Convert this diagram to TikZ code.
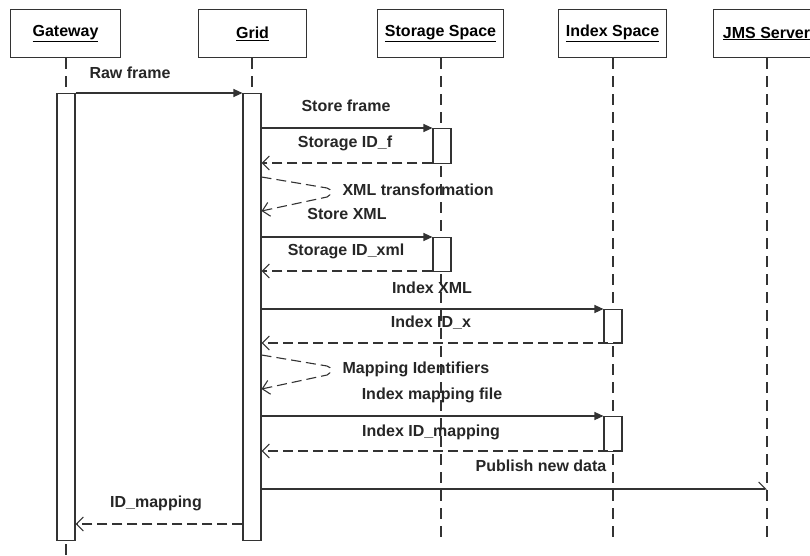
\documentclass[tikz,border=0pt]{standalone}
\usepackage{fontspec}
\setmainfont{Liberation Sans}
\usetikzlibrary{arrows.meta}
\begin{document}
\begin{tikzpicture}[x=1pt,y=-1pt,
  font=\fontsize{16}{18}\selectfont\bfseries,
  line width=1.1pt, draw=black!80,
  head/.style={draw=black!80, minimum height=48pt, inner sep=0pt, anchor=north west},
  bar/.style={draw=black!80, fill=white, minimum width=18pt, inner sep=0pt, anchor=north},
  life/.style={draw=black!80, dash pattern=on 11pt off 7pt},
  call/.style={draw=black!80, -{Triangle[length=9pt,width=8pt]}},
  ret/.style={draw=black!80, dash pattern=on 10pt off 5pt, -{Straight Barb[length=7pt,width=14pt]}},
  pub/.style={draw=black!80, -{Straight Barb[left,length=7pt,width=14pt]}},
  lbl/.style={inner sep=0pt, text=black!85}
]
\useasboundingbox (0,0) rectangle (810,555);
% headers
\node[head, minimum width=110pt] (gw) at (10,9) {\underline{Gateway}};
\node[head, minimum width=108pt] (gr) at (198,9) {\underline{Grid}};
\node[head, minimum width=126pt] (st) at (377,9) {\underline{Storage Space}};
\node[head, minimum width=108pt] (ix) at (558,9) {\underline{Index Space}};
\node[head, minimum width=106pt] (jm) at (713,9) {\underline{JMS Server}};
% lifeline coordinates
\coordinate (gwL) at (66,0);
\coordinate (grL) at (252,0);
\coordinate (stL) at (441,0);
\coordinate (ixL) at (613,0);
\coordinate (jmL) at (767,0);
\coordinate (gwEnd) at (66,555);
\coordinate (stEnd) at (441,541);
\coordinate (ixEnd) at (613,541);
\coordinate (jmEnd) at (767,541);
% lifelines
\draw[life] (gwL |- gw.south) -- (gwEnd);
\draw[life] (grL |- gr.south) -- (grL |- 0,93);
\draw[life] (stL |- st.south) -- (stEnd);
\draw[life] (ixL |- ix.south) -- (ixEnd);
\draw[life] (jmL |- jm.south) -- (jmEnd);
% activation bars
\node[bar, minimum height=447pt] (gwb) at (66,93) {};
\node[bar, minimum height=447pt] (grb) at (252,93) {};
\node[bar, minimum height=35pt] (stb1) at (442,128) {};
\node[bar, minimum height=34pt] (stb2) at (442,237) {};
\node[bar, minimum height=34pt] (ixb1) at (613,309) {};
\node[bar, minimum height=35pt] (ixb2) at (613,416) {};
% message rows
\coordinate (m1) at (0,93);
\coordinate (m2) at (0,128);
\coordinate (m3) at (0,163);
\coordinate (s1a) at (0,177);
\coordinate (s1b) at (0,211);
\coordinate (m4) at (0,237);
\coordinate (m5) at (0,271);
\coordinate (m6) at (0,309);
\coordinate (m7) at (0,343);
\coordinate (s2a) at (0,355);
\coordinate (s2b) at (0,389);
\coordinate (m8) at (0,416);
\coordinate (m9) at (0,451);
\coordinate (m10) at (0,489);
\coordinate (m11) at (0,524);
% messages
\draw[call] (gwb.east |- m1) -- (grb.west |- m1);
\node[lbl] (t1) at (130,73) {Raw frame};
\draw[call] (grb.east |- m2) -- (stb1.west |- m2);
\node[lbl] (t2) at (346,106) {Store frame};
\draw[ret] (stb1.west |- m3) -- (grb.east |- m3);
\node[lbl] (t3) at (345,143) {Storage ID\_f};
\draw[ret] (grb.east |- s1a) -- (327,188) to[out=-15,in=25,looseness=1.6] (327,197) -- (grb.east |- s1b);
\node[lbl, anchor=west] (t4) at (342,190) {XML transformation};
\node[lbl] (t5) at (347,214) {Store XML};
\draw[call] (grb.east |- m4) -- (stb2.west |- m4);
\node[lbl] (t6) at (346,251) {Storage ID\_xml};
\draw[ret] (stb2.west |- m5) -- (grb.east |- m5);
\node[lbl] (t7) at (432,288) {Index XML};
\draw[call] (grb.east |- m6) -- (ixb1.west |- m6);
\node[lbl] (t8) at (431,323) {Index ID\_x};
\draw[ret] (ixb1.east |- m7) -- (grb.east |- m7);
\draw[ret] (grb.east |- s2a) -- (327,366) to[out=-15,in=25,looseness=1.6] (327,375) -- (grb.east |- s2b);
\node[lbl, anchor=west] (t9) at (342,369) {Mapping Identifiers};
\node[lbl] (t10) at (432,395) {Index mapping file};
\draw[call] (grb.east |- m8) -- (ixb2.west |- m8);
\node[lbl] (t11) at (431,432) {Index ID\_mapping};
\draw[ret] (ixb2.east |- m9) -- (grb.east |- m9);
\node[lbl] (t12) at (541,466) {Publish new data};
\draw[pub] (grb.east |- m10) -- (jmL |- m10);
\node[lbl] (t13) at (156,503) {ID\_mapping};
\draw[ret] (grb.west |- m11) -- (gwb.east |- m11);
\end{tikzpicture}
\end{document}
